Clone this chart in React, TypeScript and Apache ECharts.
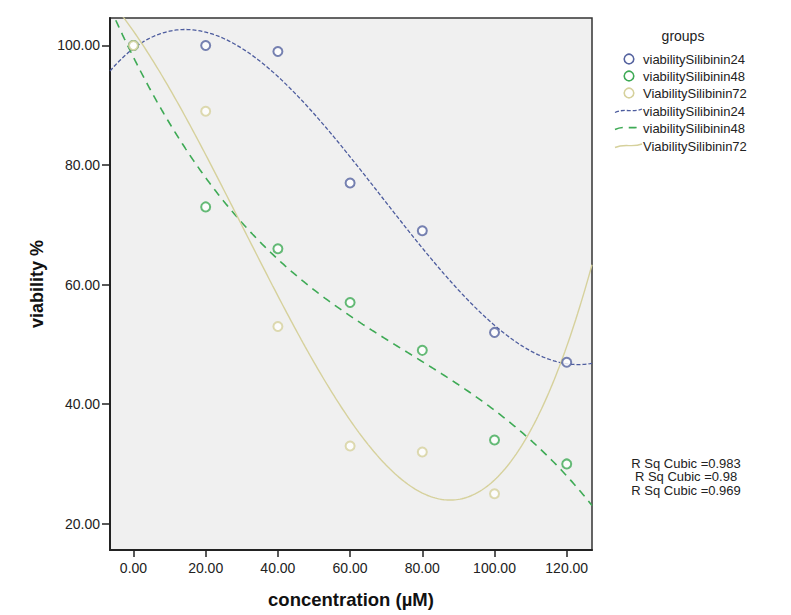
import React, { useEffect, useRef } from "react";
import * as echarts from "echarts";

const concentrations = [0, 20, 40, 60, 80, 100, 120];
const viability24 = [100, 100, 99, 77, 69, 52, 47];
const viability48 = [100, 73, 66, 57, 49, 34, 30];
const viability72: (number | null)[] = [100, 89, 53, 33, 32, 25, null];
const xTicks = [0, 20, 40, 60, 80, 100, 120];
const yTicks = [20, 40, 60, 80, 100];
const groupNames = ["viabilitySilibinin24", "viabilitySilibinin48", "ViabilitySilibinin72"];
const rSqLabels = ["R Sq Cubic =0.983", "R Sq Cubic =0.98", "R Sq Cubic =0.969"];

const X_MIN = -6.5;
const X_MAX = 127;
const Y_MIN = 15.6;
const Y_MAX = 104.6;

const COLORS = ["#55639f", "#3eaa55", "#d6d19c"];

function cubicFit(xs: number[], ys: (number | null)[]) {
  const px: number[] = [];
  const py: number[] = [];
  xs.forEach((x, i) => {
    const y = ys[i];
    if (y !== null && y !== undefined) {
      px.push(x / 100);
      py.push(y);
    }
  });
  const A: number[][] = [];
  for (let r = 0; r < 4; r++) {
    const row: number[] = [];
    for (let c = 0; c < 4; c++) {
      let s = 0;
      for (const x of px) s += Math.pow(x, r + c);
      row.push(s);
    }
    let b = 0;
    px.forEach((x, i) => (b += py[i] * Math.pow(x, r)));
    row.push(b);
    A.push(row);
  }
  for (let i = 0; i < 4; i++) {
    let p = i;
    for (let k = i + 1; k < 4; k++) if (Math.abs(A[k][i]) > Math.abs(A[p][i])) p = k;
    [A[i], A[p]] = [A[p], A[i]];
    for (let k = 0; k < 4; k++) {
      if (k === i) continue;
      const f = A[k][i] / A[i][i];
      for (let c = i; c < 5; c++) A[k][c] -= f * A[i][c];
    }
  }
  const coef = A.map((row, i) => row[4] / row[i]);
  return (x: number) => {
    const t = x / 100;
    return coef[0] + coef[1] * t + coef[2] * t * t + coef[3] * t * t * t;
  };
}

function curveData(ys: (number | null)[]) {
  const f = cubicFit(concentrations, ys);
  const out: number[][] = [];
  for (let x = X_MIN; x <= X_MAX + 0.001; x += 0.5) out.push([x, f(x)]);
  return out;
}

export default function App() {
  const ref = useRef<HTMLDivElement>(null);
  useEffect(() => {
    if (!ref.current) return;
    const chart = echarts.init(ref.current, null, { renderer: "svg" });
    const font = "'Liberation Sans', Arial, sans-serif";
    const seriesVals = [viability24, viability48, viability72];
    const scatter = seriesVals.map((vals, i) => ({
      type: "scatter",
      name: groupNames[i],
      symbol: "emptyCircle",
      symbolSize: 9,
      z: 10 + i,
      itemStyle: { color: COLORS[i], borderColor: COLORS[i], borderWidth: 1.6 },
      data: concentrations
        .map((x, j) => [x, vals[j]])
        .filter((p) => p[1] !== null),
    }));
    const lineStyles = [
      { color: "#4d5c9e", width: 1.3, type: [4, 2] },
      { color: "#3eaa55", width: 1.6, type: [8, 6] },
      { color: "#d6d19c", width: 1.4, type: "solid" },
    ];
    const lines = seriesVals.map((vals, i) => ({
      type: "line",
      name: groupNames[i] + " fit",
      showSymbol: false,
      symbol: "none",
      smooth: false,
      clip: true,
      z: 5,
      lineStyle: lineStyles[i],
      data: curveData(vals),
    }));

    const legendRows = [59, 76, 93, 111, 128, 146];
    const legendGraphics: any[] = [
      {
        type: "text",
        x: 683,
        y: 36,
        style: { text: "groups", font: `14px ${font}`, fill: "#222", textAlign: "center", textVerticalAlign: "middle" },
      },
    ];
    for (let i = 0; i < 3; i++) {
      legendGraphics.push({
        type: "circle",
        shape: { cx: 629, cy: legendRows[i], r: 4.8 },
        style: { fill: "none", stroke: COLORS[i], lineWidth: 1.6 },
      });
      legendGraphics.push({
        type: "text",
        x: 643,
        y: legendRows[i],
        style: { text: groupNames[i], font: `13px ${font}`, fill: "#222", textVerticalAlign: "middle" },
      });
    }
    for (let i = 0; i < 3; i++) {
      const y = legendRows[3 + i];
      legendGraphics.push({
        type: "bezierCurve",
        shape: { x1: 615, y1: y + 1.5, cpx1: 625, cpy1: y - 3, cpx2: 632, cpy2: y + 2, x2: 642, y2: y - 2 },
        style: {
          fill: "none",
          stroke: lineStyles[i].color,
          lineWidth: lineStyles[i].width,
          lineDash: Array.isArray(lineStyles[i].type) ? lineStyles[i].type : null,
        },
      });
      legendGraphics.push({
        type: "text",
        x: 643,
        y,
        style: { text: groupNames[i], font: `13px ${font}`, fill: "#222", textVerticalAlign: "middle" },
      });
    }
    const rRows = [463, 476.5, 490];
    rSqLabels.forEach((t, i) => {
      legendGraphics.push({
        type: "text",
        x: 686,
        y: rRows[i],
        style: { text: t, font: `13px ${font}`, fill: "#222", textAlign: "center", textVerticalAlign: "middle" },
      });
    });

    chart.setOption({
      animation: false,
      backgroundColor: "#ffffff",
      textStyle: { fontFamily: font },
      grid: {
        left: 110,
        top: 18,
        right: 199,
        bottom: 65,
        show: true,
        backgroundColor: "#f0f0f0",
        borderColor: "#333",
        borderWidth: 1.5,
      },
      xAxis: {
        type: "value",
        min: X_MIN,
        max: X_MAX,
        splitLine: { show: false },
        axisLine: { show: true, onZero: false, lineStyle: { color: "#222", width: 2 } },
        axisTick: { show: true, customValues: xTicks, length: 7, lineStyle: { color: "#222", width: 1.5 } },
        axisLabel: {
          customValues: xTicks,
          formatter: (v: number) => v.toFixed(2),
          fontSize: 14,
          color: "#222",
          margin: 11,
          fontFamily: font,
        },
        name: "concentration (µM)",
        nameLocation: "middle",
        nameGap: 40,
        nameTextStyle: { fontWeight: "bold", fontSize: 18.5, color: "#111", fontFamily: font },
      },
      yAxis: {
        type: "value",
        min: Y_MIN,
        max: Y_MAX,
        splitLine: { show: false },
        axisLine: { show: true, onZero: false, lineStyle: { color: "#222", width: 2 } },
        axisTick: { show: true, customValues: yTicks, length: 8, lineStyle: { color: "#222", width: 1.5 } },
        axisLabel: {
          customValues: yTicks,
          formatter: (v: number) => v.toFixed(2),
          fontSize: 14,
          color: "#222",
          margin: 10,
          fontFamily: font,
        },
        name: "viability %",
        nameLocation: "middle",
        nameGap: 56,
        nameTextStyle: { fontWeight: "bold", fontSize: 18, color: "#111", fontFamily: font },
      },
      graphic: legendGraphics,
      series: [...lines, ...scatter],
    });
    return () => chart.dispose();
  }, []);
  return (
    <div
      ref={ref}
      style={{ position: "fixed", left: 0, top: 0, width: 791, height: 615, background: "#fff" }}
    />
  );
}
